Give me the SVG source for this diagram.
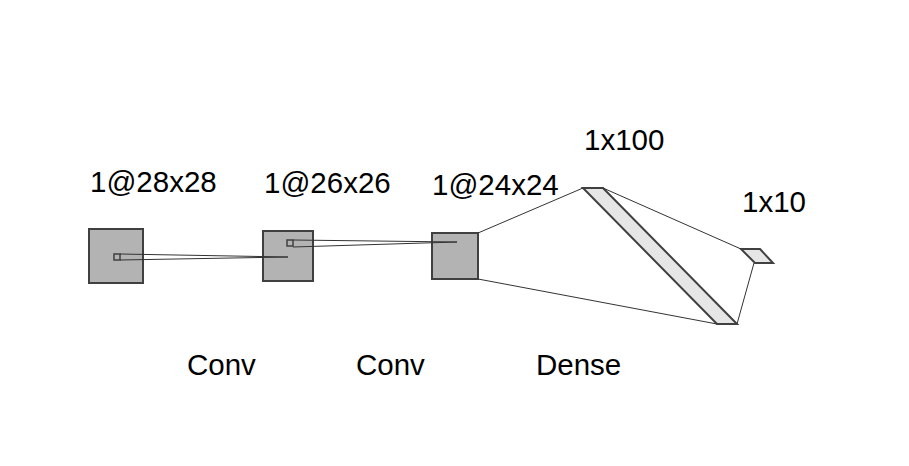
<svg xmlns="http://www.w3.org/2000/svg" width="909" height="466" viewBox="0 0 909 466">
<style>
.fm{fill:#b3b3b3;stroke:#404040;stroke-width:2}
.sm{fill:#b3b3b3;stroke:#404040;stroke-width:1.5}
.pl{fill:#e6e6e6;stroke:#404040;stroke-width:2}
.ln{stroke:#333;stroke-width:1;fill:none}
text{font-family:"Liberation Sans",Arial,sans-serif;font-size:29.5px;fill:#000}
</style>
<rect width="909" height="466" fill="#fff"/>
<g id="input"><rect class="fm" x="89" y="229" width="54" height="54"/><rect class="sm" x="114" y="254" width="6" height="6"/><text x="90" y="192">1@28x28</text></g>
<g id="conv1"><rect class="fm" x="263" y="231" width="50" height="50"/><rect class="sm" x="287" y="240" width="6" height="6"/><text x="264" y="193">1@26x26</text></g>
<g id="conv2"><rect class="fm" x="432" y="233" width="46" height="46"/><text x="432" y="195">1@24x24</text></g>
<g id="dense1"><polygon class="pl" points="583,188 603,188 737,324 717,324"/><text x="584" y="150">1x100</text></g>
<g id="dense2"><polygon class="pl" points="741,249 760,249 773,263 755,263"/><text x="742" y="212">1x10</text></g>
<g id="labels"><text x="187" y="375">Conv</text><text x="356" y="375">Conv</text><text x="536" y="375">Dense</text></g>
<g id="connectors">
<path class="ln" d="M120,254 L288,257 M120,260 L288,257"/>
<path class="ln" d="M293,240 L457,242 M293,247 L457,242"/>
<path class="ln" d="M478,233 L583,188 M478,279 L717,324"/>
<path class="ln" d="M603,188 L741,249 M737,324 L754,263"/>
</g>
</svg>
